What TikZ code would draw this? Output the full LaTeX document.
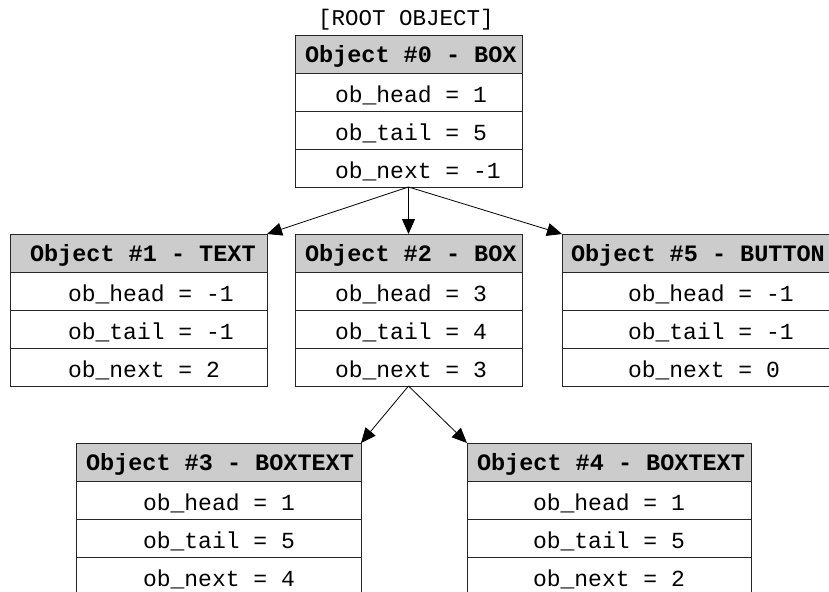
\documentclass[tikz,border=0pt]{standalone}
\usepackage{fontspec}
\usetikzlibrary{arrows.meta}
\newfontfamily\monofam{Liberation Mono}
\newcommand{\bodyfont}{\monofam\fontsize{23}{23}\selectfont}
\newcommand{\headfont}{\monofam\bfseries\fontsize{23.5}{23.5}\selectfont}
\newcommand{\cellt}[3]{\raisebox{-10.5pt}[0pt][0pt]{\makebox[#1pt][l]{\hspace*{#2pt}#3}}}
\newcommand{\headt}[3]{\raisebox{-8.5pt}[0pt][0pt]{\makebox[#1pt][l]{\hspace*{#2pt}#3}}}
\begin{document}
\begin{tikzpicture}[x=1pt,y=-1pt,
  cell/.style={draw=black!85, line width=0.9pt, minimum height=38pt, inner sep=0pt, outer sep=0pt, anchor=north west, font=\bodyfont, fill=white},
  head/.style={cell, fill=gray!40, font=\headfont},
  arr/.style={draw=black, line width=0.8pt, -{Triangle[length=15pt,width=13pt]}},
  lbl/.style={font=\monofam\fontsize{22.5}{22.5}\selectfont, inner sep=0pt}]
\clip (0,0) rectangle (829,591);
\fill[white] (0,0) rectangle (829,591);
% root label
\node[lbl] (root) at (406,20) {[ROOT OBJECT]};
% Object 0
\node[head] (h0) at (295,35) {\headt{227}{10}{Object \#0 - BOX}};
\node[cell] (a0) at (h0.south west) {\cellt{227}{40}{ob\_head = 1}};
\node[cell] (b0) at (a0.south west) {\cellt{227}{40}{ob\_tail = 5}};
\node[cell] (c0) at (b0.south west) {\cellt{227}{40}{ob\_next = -1}};
% Object 1
\node[head] (h1) at (10,234) {\headt{257}{20}{Object \#1 - TEXT}};
\node[cell] (a1) at (h1.south west) {\cellt{257}{58}{ob\_head = -1}};
\node[cell] (b1) at (a1.south west) {\cellt{257}{58}{ob\_tail = -1}};
\node[cell] (c1) at (b1.south west) {\cellt{257}{58}{ob\_next = 2}};
% Object 2
\node[head] (h2) at (295,234) {\headt{227}{10}{Object \#2 - BOX}};
\node[cell] (a2) at (h2.south west) {\cellt{227}{40}{ob\_head = 3}};
\node[cell] (b2) at (a2.south west) {\cellt{227}{40}{ob\_tail = 4}};
\node[cell] (c2) at (b2.south west) {\cellt{227}{40}{ob\_next = 3}};
% Object 5
\node[head] (h5) at (562,234) {\headt{270}{9}{Object \#5 - BUTTON}};
\node[cell] (a5) at (h5.south west) {\cellt{270}{66}{ob\_head = -1}};
\node[cell] (b5) at (a5.south west) {\cellt{270}{66}{ob\_tail = -1}};
\node[cell] (c5) at (b5.south west) {\cellt{270}{66}{ob\_next = 0}};
% Object 3
\node[head] (h3) at (76,443) {\headt{285}{10}{Object \#3 - BOXTEXT}};
\node[cell] (a3) at (h3.south west) {\cellt{285}{67}{ob\_head = 1}};
\node[cell] (b3) at (a3.south west) {\cellt{285}{67}{ob\_tail = 5}};
\node[cell] (c3) at (b3.south west) {\cellt{285}{67}{ob\_next = 4}};
% Object 4
\node[head] (h4) at (467,443) {\headt{284}{10}{Object \#4 - BOXTEXT}};
\node[cell] (a4) at (h4.south west) {\cellt{284}{66}{ob\_head = 1}};
\node[cell] (b4) at (a4.south west) {\cellt{284}{66}{ob\_tail = 5}};
\node[cell] (c4) at (b4.south west) {\cellt{284}{66}{ob\_next = 2}};
% connectors
\draw[arr] (c0.south) -- (h1.north east);
\draw[arr] (c0.south) -- (h2.north);
\draw[arr] (c0.south) -- (h5.north west);
\draw[arr] (c2.south) -- (h3.north east);
\draw[arr] (c2.south) -- (h4.north west);
\end{tikzpicture}
\end{document}
